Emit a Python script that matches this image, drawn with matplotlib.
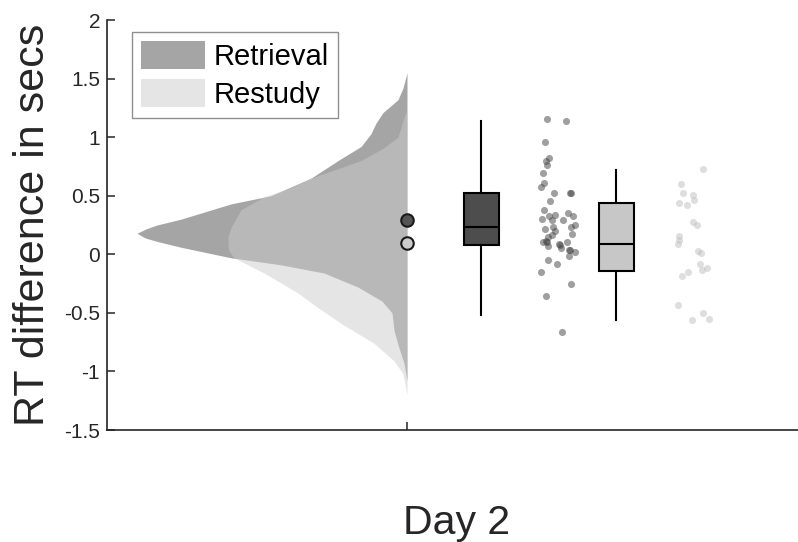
import numpy as np
import matplotlib.pyplot as plt
from matplotlib.ticker import FuncFormatter

plt.rcParams['font.family'] = ['Liberation Sans', 'DejaVu Sans']

# half-violin outlines (value, density width)
ret_dens_y = [-1.08, -0.93, -0.80, -0.65, -0.50, -0.40, -0.28, -0.16, -0.09, -0.03,
              0.06, 0.11, 0.14, 0.18, 0.22, 0.25, 0.30, 0.43, 0.50, 0.65, 0.80, 0.92, 1.03,
              1.12, 1.21, 1.32, 1.42, 1.55]
ret_dens_w = [0.00, 0.03, 0.08, 0.13, 0.15, 0.25, 0.49, 0.83, 1.26, 1.76,
              2.26, 2.50, 2.62, 2.70, 2.60, 2.50, 2.26, 1.76, 1.36, 0.96, 0.69, 0.46, 0.36,
              0.31, 0.24, 0.09, 0.04, 0.00]
stu_dens_y = [-1.20, -1.02, -0.91, -0.76, -0.59, -0.45, -0.33, -0.16, -0.03, 0.03, 0.08,
              0.15, 0.23, 0.38, 0.49, 0.57, 0.65, 0.74, 0.80, 0.91, 1.00, 1.17, 1.23]
stu_dens_w = [0.00, 0.04, 0.13, 0.33, 0.66, 0.90, 1.09, 1.43, 1.73, 1.78, 1.79,
              1.79, 1.76, 1.66, 1.43, 1.16, 0.96, 0.66, 0.46, 0.23, 0.09, 0.03, 0.00]

# means
ret_mean = 0.29
stu_mean = 0.094

# box stats
ret_box = dict(q1=0.077, med=0.23, q3=0.52, whislo=-0.52, whishi=1.14)
stu_box = dict(q1=-0.14, med=0.085, q3=0.44, whislo=-0.56, whishi=0.72)

# individual points (values) and their horizontal jitter
ret_vals = [1.154, 1.139, 0.955, 0.826, 0.798, 0.761, 0.69, 0.61, 0.575, 0.527,
            0.519, 0.453, 0.376, 0.339, 0.356, 0.325, 0.299, 0.328, 0.296, 0.291,
            0.214, 0.234, 0.197, 0.234, 0.248, 0.168, 0.148, 0.105, 0.105, 0.177,
            0.105, 0.085, 0.057, 0.071, 0.034, 0.020, -0.017, -0.045, -0.080, -0.151,
            -0.256, -0.359, -0.667, 0.525, 0.08, 0.11, 0.04]
ret_jit = [1.40, 1.59, 1.38, 1.42, 1.39, 1.40, 1.36, 1.37, 1.34, 1.47,
           1.64, 1.43, 1.37, 1.48, 1.61, 1.66, 1.35, 1.42, 1.45, 1.56,
           1.38, 1.46, 1.48, 1.64, 1.68, 1.45, 1.41, 1.40, 1.36, 1.65,
           1.60, 1.52, 1.54, 1.41, 1.63, 1.68, 1.62, 1.41, 1.50, 1.34,
           1.64, 1.39, 1.55, 1.63, 1.53, 1.39, 1.62]
stu_vals = [0.724, 0.596, 0.519, 0.504, 0.442, 0.425, 0.462, 0.276, 0.248, 0.154,
            0.125, 0.085, 0.028, 0.011, -0.080, -0.117, -0.137, -0.151, -0.185, -0.436,
            -0.501, -0.553, -0.564]
stu_jit = [2.96, 2.74, 2.76, 2.86, 2.72, 2.80, 2.87, 2.86, 2.90, 2.72,
           2.72, 2.71, 2.91, 2.94, 2.93, 3.00, 2.95, 2.81, 2.75, 2.71,
           2.96, 3.02, 2.85]

fig = plt.figure(figsize=(7.98, 5.42), dpi=100)
ax = fig.add_axes([107/798, 112/542, 700/798, 410/542])

ax.fill_betweenx(ret_dens_y, -np.array(ret_dens_w), 0, color='0.3', alpha=0.5,
                 linewidth=0, label='Retrieval')
ax.fill_betweenx(stu_dens_y, -np.array(stu_dens_w), 0, color='0.8', alpha=0.5,
                 linewidth=0, label='Restudy')

ax.plot([0], [ret_mean], 'o', ms=9, mfc='0.33', mec='0.1', mew=1.5, zorder=5)
ax.plot([0], [stu_mean], 'o', ms=9, mfc='0.8', mec='0.1', mew=1.5, zorder=5)

for st, pos, fc in [(ret_box, 0.74, '0.3'), (stu_box, 2.09, '0.78')]:
    st = dict(st, fliers=[])
    ax.bxp([st], positions=[pos], widths=0.35, showcaps=False, patch_artist=True,
           boxprops=dict(facecolor=fc, edgecolor='black', linewidth=1.5),
           medianprops=dict(color='black', linewidth=1.5),
           whiskerprops=dict(color='black', linewidth=1.5), manage_ticks=False)

ax.scatter(ret_jit, ret_vals, s=26, color='0.25', alpha=0.5, linewidths=0)
ax.scatter(stu_jit, stu_vals, s=26, color='0.75', alpha=0.5, linewidths=0)

ax.set_xlim(-3, 4)
ax.set_ylim(-1.5, 2)
ax.set_xticks([0])
ax.set_xticklabels([''])
ax.set_yticks([-1.5, -1, -0.5, 0, 0.5, 1, 1.5, 2])
ax.yaxis.set_major_formatter(FuncFormatter(lambda v, p: '%g' % v))
for s in ['top', 'right']:
    ax.spines[s].set_visible(False)
for s in ['left', 'bottom']:
    ax.spines[s].set_linewidth(1.2)
    ax.spines[s].set_color('0.15')
ax.tick_params(direction='in', length=6, width=1.1, colors='0.15', labelsize=15, pad=5)

ax.set_ylabel('RT difference in secs', fontsize=31, labelpad=8, color='0.15')
ax.set_xlabel('Day 2', fontsize=29.5, labelpad=48, color='0.15')

leg = ax.legend(loc='upper left', bbox_to_anchor=(0.036, 0.971), borderaxespad=0,
                fontsize=21, fancybox=False, edgecolor='0.45', handlelength=2.2,
                handleheight=1.1, handletextpad=0.3, labelspacing=0.3, borderpad=0.3)
leg.get_frame().set_linewidth(1.0)

fig.savefig('out.png', dpi=100)
